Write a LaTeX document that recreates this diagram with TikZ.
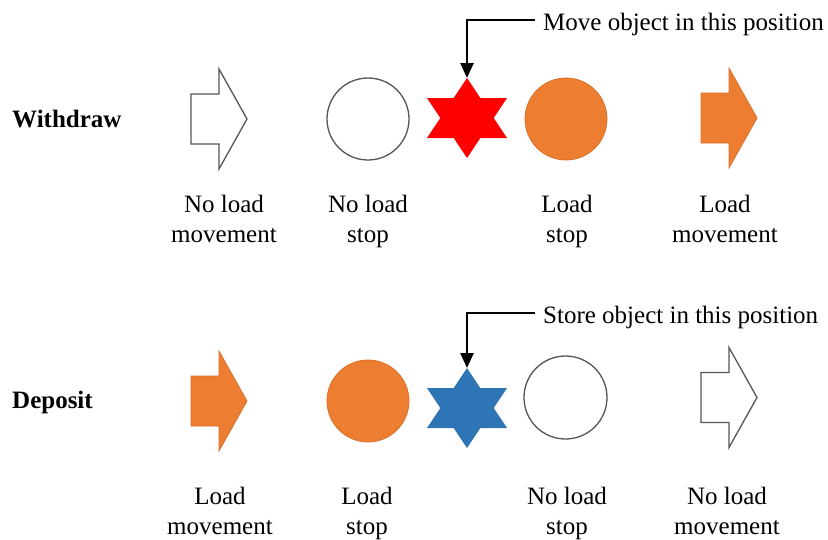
\documentclass[tikz,border=0pt]{standalone}
\usepackage{fontspec}
\setmainfont{Liberation Serif}
\usetikzlibrary{arrows.meta}
\definecolor{orng}{HTML}{ED7D31}
\definecolor{orngdk}{HTML}{D9712A}
\definecolor{blu}{HTML}{2E75B6}
\definecolor{outl}{HTML}{555555}
\tikzset{
  blockarrow/.pic={\path[pic actions] (0,-25) -- (28,-25) -- (28,-50) -- (56,0) -- (28,50) -- (28,25) -- (0,25) -- cycle;},
  hexstar/.pic={\path[pic actions, xscale=1.155] (90:40) -- (60:23.09) -- (30:40) -- (0:23.09) -- (-30:40) -- (-60:23.09) -- (-90:40) -- (-120:23.09) -- (-150:40) -- (180:23.09) -- (150:40) -- (120:23.09) -- cycle;},
  emptyshape/.style={draw=outl, fill=white, line width=1.3pt},
  loadshape/.style={draw=orngdk, fill=orng, line width=0.8pt},
  lbl/.style={font=\fontsize{25pt}{30.5pt}\selectfont, align=center, inner sep=0pt, anchor=base},
  rowlbl/.style={font=\fontsize{25pt}{30pt}\selectfont\bfseries, inner sep=0pt, anchor=base west},
  note/.style={font=\fontsize{25pt}{30pt}\selectfont, inner sep=0pt, anchor=base west},
  pointer/.style={line width=2.5pt, -{Triangle[length=15pt,width=13pt]}},
}
\begin{document}
\begin{tikzpicture}[x=1pt,y=-1pt]
\useasboundingbox (0,0) rectangle (828,539);

% ---- Withdraw row ----
\node[rowlbl] (withdraw) at (12,127) {Withdraw};
\pic[emptyshape] (wa1) at (191,119) {blockarrow};
\node[circle, emptyshape, minimum size=82pt, inner sep=0pt] (wc1) at (368,119) {};
\pic[fill=red] (ws) at (467,118) {hexstar};
\coordinate (wstop) at (467,78);
\node[circle, loadshape, minimum size=82pt, inner sep=0pt] (wc2) at (566,119) {};
\pic[loadshape] (wa2) at (701,118) {blockarrow};

\node[lbl] (wl1) at (224,242.5) {No load\\movement};
\node[lbl] (wl2) at (368,242.5) {No load\\stop};
\node[lbl] (wl3) at (567,242.5) {Load\\stop};
\node[lbl] (wl4) at (725,242.5) {Load\\movement};

\node[note] (wnote) at (543,30) {Move object in this position};
\draw[pointer] ([xshift=-8pt,yshift=10pt]wnote.base west) -| (wstop);

% ---- Deposit row ----
\node[rowlbl] (deposit) at (12,408) {Deposit};
\pic[loadshape] (da1) at (191,401) {blockarrow};
\node[circle, loadshape, minimum size=82pt, inner sep=0pt] (dc1) at (368,401) {};
\pic[fill=blu] (ds) at (467,408) {hexstar};
\coordinate (dstop) at (467,368);
\node[circle, emptyshape, minimum size=83pt, inner sep=0pt] (dc2) at (565.5,397.5) {};
\pic[emptyshape] (da2) at (701,397.5) {blockarrow};

\node[lbl] (dl1) at (220,534.5) {Load\\movement};
\node[lbl] (dl2) at (367,534.5) {Load\\stop};
\node[lbl] (dl3) at (567,534.5) {No load\\stop};
\node[lbl] (dl4) at (727,534.5) {No load\\movement};

\node[note] (dnote) at (543,323) {Store object in this position};
\draw[pointer] ([xshift=-8pt,yshift=10pt]dnote.base west) -| (dstop);
\end{tikzpicture}
\end{document}
